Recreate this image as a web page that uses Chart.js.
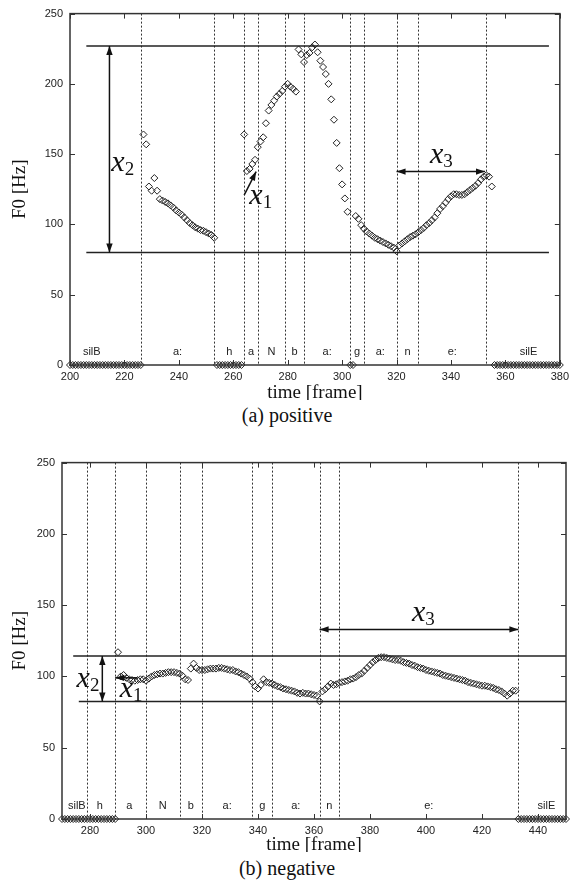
<!DOCTYPE html>
<html>
<head>
<meta charset="utf-8">
<script src="https://cdn.jsdelivr.net/npm/chart.js@4.4.1/dist/chart.umd.min.js"></script>
<style>
  body { margin: 0; background: #fff; width: 574px; height: 886px; position: relative; overflow: hidden; }
  .box { position: absolute; left: 0; width: 574px; }
  .cap { position: absolute; left: 0; width: 574px; text-align: center; font: 20px "Liberation Serif", serif; line-height: 24px; color: #111; }
</style>
</head>
<body>
<div class="box" style="top:0;height:400px"><canvas id="chartA" width="574" height="400"></canvas></div>
<div class="cap" style="top:403px">(a) positive</div>
<div class="box" style="top:449px;height:403px"><canvas id="chartB" width="574" height="403"></canvas></div>
<div class="cap" style="top:856px">(b) negative</div>

<script>
// ---- (a) positive : F0 per frame, frames 200..380 (0 = unvoiced)
const posStart = 200;
const posF0 = [
  0,0,0,0,0,0,0,0,0,0,0,0,0,0,0,0,0,0,0,0,0,0,0,0,0,0,0,
  164,157,127,124,133,124,118,117,116,115,113.5,112,110,108.5,107,105,103,101,99.5,98,97,96,95.5,94.5,93.5,92.5,90.5,
  0,0,0,0,0,0,0,0,0,0,
  164,138,139.5,143,146,155,159,162,172,181,185,188,191,193,195,198,200,198,196.5,194.5,
  224.5,221,215.5,220.5,222,226,228,222.5,216.5,212,207,200,189,174.5,158,140,128.5,118.5,109,
  0,0,
  106,104,99.5,97,95,93.5,92,90.5,89.5,88.5,87.5,86.5,85.5,84.5,83.5,81,
  85,86.5,88,89.5,91,92,93,94.5,96,97.5,99.5,101,103,105,108,111,113,115.5,118,120,
  121.5,121.5,121,121,121.5,123,124.5,126,127.5,129.5,132,134,135,134,127,
  0,0,0,0,0,0,0,0,0,0,0,0,0,0,0,0,0,0,0,0,0,0,0,0,0
];
const posBounds = [226, 253, 264, 269, 279, 286, 303, 308, 320, 328, 353];
const posPhones = ['silB', 'a:', 'h', 'a', 'N', 'b', 'a:', 'g', 'a:', 'n', 'e:', 'silE'];
const posPhoneX = [208, 239.5, 258.5, 266.5, 274, 282.5, 294.5, 305.5, 314, 324, 340.5, 368.5];
const posRefLines = [[206, 376, 227], [206, 376, 80]];   // [fromFrame, toFrame, Hz]
const posXTicks = [200, 220, 240, 260, 280, 300, 320, 340, 360, 380];

// ---- (b) negative : F0 per frame, frames 270..450
const negStart = 270;
const negF0 = [
  0,0,0,0,0,0,0,0,0,0,0,0,0,0,0,0,0,0,0,0,
  117,100,101,99,98,97.5,97,97.5,98,98,97,98.5,100,101,101.5,102,102,102.5,103,103,103,102.5,102,100.5,98,97.5,105.5,109,106,104.5,
  104.5,104.5,105,105.5,105.5,105.5,106,106,105.5,105,104.5,104.5,103.5,103,102,101,100,98.5,96,93,91.5,94,98,96,95.5,95,94,93,92.5,91.5,
  91,90.5,90,89.5,88.5,88,88.5,88,88,87.5,87,86.5,82.5,89.5,91,93,95,94,94.5,95.5,96,96.5,97,98,98.5,99.5,101,102,104,106,
  108,110,111.5,113,113.5,113.5,113,112.5,112,111.5,111.5,111,110,109.5,109,108,107.5,106.5,106,105.5,104.5,104,103.5,103,102.5,102,101,100.5,100,99.5,
  99,98.5,98,97.5,97,96,95.5,95,94.5,94,93.5,93.5,93,92.5,92,91,90.5,89.5,88,86.5,88,90,90,
  0,0,0,0,0,0,0,0,0,0,0,0,0,0,0,0,0,0
];
const negBounds = [279, 289, 300, 312, 320, 338, 345, 362, 369, 433];
const negPhones = ['silB', 'h', 'a', 'N', 'b', 'a:', 'g', 'a:', 'n', 'e:', 'silE'];
const negPhoneX = [275.3, 283.5, 294, 306, 316, 329, 341.5, 353.5, 365.5, 401, 443];
const negRefLines = [[274, 450, 114.3], [276, 450, 82.4]];
const negXTicks = [280, 300, 320, 340, 360, 380, 400, 420, 440];

const yTicks = [0, 50, 100, 150, 200, 250];

// annotation arrows [x1, y1, x2, y2, doubleHeaded] and labels [frame, Hz, sub]
const posArrows = [[214.5, 227, 214.5, 80, true], [264, 120.8, 268.4, 137.6, false], [320, 137.6, 352.5, 137.6, true]];
const posMarks = [[215.2, 138.3, '2'], [265.9, 114.5, '1'], [332.3, 144, '3']];
const negArrows = [[284.4, 114.3, 284.4, 82.4, true], [297, 99, 289, 99, false], [362, 133, 433, 133, true]];
const negMarks = [[275.2, 92.8, '2'], [290.6, 85.9, '1'], [395, 139.2, '3']];

const INK = '#222';
const tickFont = { family: '"Liberation Sans", Arial, sans-serif', size: 11 };
const titleFont = { family: '"Liberation Serif", "Times New Roman", serif', size: 19, lineHeight: 0.7 };

function head(ctx, xf, yf, xt, yt) {
  const a = Math.atan2(yt - yf, xt - xf), L = 9, W = 3.2;
  ctx.beginPath();
  ctx.moveTo(xt, yt);
  ctx.lineTo(xt - L * Math.cos(a) + W * Math.sin(a), yt - L * Math.sin(a) - W * Math.cos(a));
  ctx.lineTo(xt - L * Math.cos(a) - W * Math.sin(a), yt - L * Math.sin(a) + W * Math.cos(a));
  ctx.closePath();
  ctx.fill();
}

function decor(d) {
  return {
    id: 'decor',
    beforeDatasetsDraw(chart) {
      const { ctx, chartArea: a, scales: { x, y } } = chart;
      ctx.save();
      // phone boundaries
      ctx.strokeStyle = '#333';
      ctx.lineWidth = 1;
      ctx.setLineDash([2, 2]);
      d.bounds.forEach(b => {
        const px = Math.round(x.getPixelForValue(b)) + 0.5;
        ctx.beginPath(); ctx.moveTo(px, a.top); ctx.lineTo(px, a.bottom); ctx.stroke();
      });
      ctx.setLineDash([]);
      // reference lines
      ctx.strokeStyle = INK;
      ctx.lineWidth = 1.6;
      d.refs.forEach(r => {
        const py = y.getPixelForValue(r[2]);
        ctx.beginPath(); ctx.moveTo(x.getPixelForValue(r[0]), py); ctx.lineTo(x.getPixelForValue(r[1]), py); ctx.stroke();
      });
      // phone labels
      ctx.fillStyle = INK;
      ctx.font = '11px "Liberation Sans", Arial, sans-serif';
      ctx.textAlign = 'center';
      ctx.textBaseline = 'middle';
      d.phones.forEach((t, i) => ctx.fillText(t, x.getPixelForValue(d.phoneX[i]), y.getPixelForValue(9)));
      ctx.restore();
    },
    afterDatasetsDraw(chart) {
      const { ctx, chartArea: a, scales: { x, y } } = chart;
      ctx.save();
      // frame + inward ticks
      ctx.strokeStyle = '#333';
      ctx.lineWidth = 1.5;
      ctx.strokeRect(a.left, a.top, a.right - a.left, a.bottom - a.top);
      ctx.lineWidth = 1;
      ctx.beginPath();
      d.xticks.forEach(v => {
        const px = Math.round(x.getPixelForValue(v)) + 0.5;
        ctx.moveTo(px, a.bottom); ctx.lineTo(px, a.bottom - 5);
        ctx.moveTo(px, a.top); ctx.lineTo(px, a.top + 5);
      });
      yTicks.forEach(v => {
        const py = Math.round(y.getPixelForValue(v)) + 0.5;
        ctx.moveTo(a.left, py); ctx.lineTo(a.left + 5, py);
        ctx.moveTo(a.right, py); ctx.lineTo(a.right - 5, py);
      });
      ctx.stroke();
      // arrows
      ctx.strokeStyle = '#111';
      ctx.fillStyle = '#111';
      ctx.lineWidth = 1.5;
      d.arrows.forEach(r => {
        const x1 = x.getPixelForValue(r[0]), y1 = y.getPixelForValue(r[1]);
        const x2 = x.getPixelForValue(r[2]), y2 = y.getPixelForValue(r[3]);
        ctx.beginPath(); ctx.moveTo(x1, y1); ctx.lineTo(x2, y2); ctx.stroke();
        head(ctx, x1, y1, x2, y2);
        if (r[4]) head(ctx, x2, y2, x1, y1);
      });
      // x_n labels
      ctx.textAlign = 'left';
      ctx.textBaseline = 'alphabetic';
      d.marks.forEach(m => {
        const px = x.getPixelForValue(m[0]), py = y.getPixelForValue(m[1]);
        ctx.font = 'italic 30px "Liberation Serif", "Times New Roman", serif';
        ctx.fillText('x', px, py);
        const w = ctx.measureText('x').width;
        ctx.font = '19px "Liberation Serif", "Times New Roman", serif';
        ctx.fillText(m[2], px + w, py + 4);
      });
      ctx.restore();
    }
  };
}

function makeChart(id, start, f0, xmin, xmax, xticks, plotLeft, padRight, xHeight, d) {
  return new Chart(document.getElementById(id), {
    type: 'scatter',
    data: {
      datasets: [{
        data: f0.map((v, i) => ({ x: start + i, y: v })),
        pointStyle: 'rectRot',
        pointRadius: 3.5,
        borderWidth: 1,
        borderColor: INK,
        backgroundColor: 'rgba(255,255,255,0)',
        clip: false
      }]
    },
    options: {
      responsive: false,
      animation: false,
      events: [],
      layout: { padding: { top: 9, right: padRight, left: 0, bottom: 0 } },
      plugins: { legend: { display: false }, tooltip: { enabled: false } },
      scales: {
        x: {
          type: 'linear', min: xmin, max: xmax,
          afterBuildTicks: s => { s.ticks = xticks.map(v => ({ value: v })); },
          afterFit: s => { s.height = xHeight; },
          grid: { display: false, drawTicks: false },
          border: { display: false },
          ticks: { font: tickFont, color: INK, padding: 5, maxRotation: 0, autoSkip: false },
          title: { display: true, text: 'time [frame]', font: titleFont, color: '#111', padding: 0 }
        },
        y: {
          type: 'linear', min: 0, max: 250,
          afterBuildTicks: s => { s.ticks = yTicks.map(v => ({ value: v })); },
          afterFit: s => { s.width = plotLeft; },
          grid: { display: false, drawTicks: false },
          border: { display: false },
          ticks: { font: tickFont, color: INK, padding: 7 },
          title: { display: true, text: 'F0 [Hz]', font: { family: titleFont.family, size: 19 }, color: '#111', padding: { top: 9, bottom: 0 } }
        }
      }
    },
    plugins: [decor(d)]
  });
}

makeChart('chartA', posStart, posF0, 200, 380, posXTicks, 70, 12, 35, {
  bounds: posBounds, refs: posRefLines, phones: posPhones, phoneX: posPhoneX,
  xticks: posXTicks, arrows: posArrows, marks: posMarks
});
makeChart('chartB', negStart, negF0, 270, 450, negXTicks, 62, 8, 33, {
  bounds: negBounds, refs: negRefLines, phones: negPhones, phoneX: negPhoneX,
  xticks: negXTicks, arrows: negArrows, marks: negMarks
});
</script>
</body>
</html>
